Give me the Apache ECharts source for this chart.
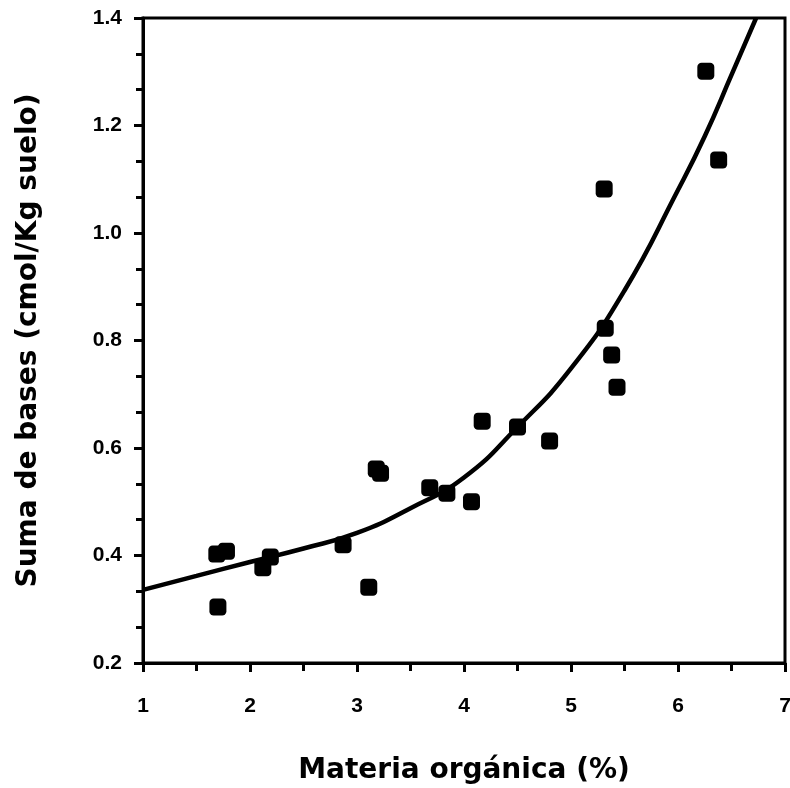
<!DOCTYPE html>
<html>
<head>
<meta charset="utf-8">
<script src="https://cdn.jsdelivr.net/npm/echarts@6/dist/echarts.min.js"></script>
<style>
    html, body { margin: 0; padding: 0; background: #fff; }
    #chart { width: 790px; height: 788px; }
</style>
</head>
<body>
<div id="chart"></div>
<script>
    // puntos medidos: materia orgánica (%) vs suma de bases
    var materiaOrganica = [1.69, 1.78, 1.70, 2.12, 2.19, 2.87, 3.11, 3.18, 3.22, 3.68, 3.84, 4.07,
        4.17, 4.50, 4.80, 5.31, 5.32, 5.38, 5.43, 6.26, 6.38]
    var sumaBases = [0.403, 0.408, 0.304, 0.377, 0.397, 0.420, 0.341, 0.561, 0.553, 0.526, 0.516, 0.500,
        0.650, 0.639, 0.613, 1.082, 0.823, 0.773, 0.713, 1.301, 1.136]
    // curva ajustada
    var curvaX = [1, 1.5, 2, 2.5, 3, 3.5, 4, 4.5, 5, 5.5, 6, 6.25, 6.5, 6.73]
    var curvaY = [0.336, 0.362, 0.388, 0.413, 0.442, 0.488, 0.545, 0.639, 0.748, 0.893, 1.08, 1.18, 1.294, 1.40]

    var fuente = 'Liberation Sans'
    var fuenteTitulo = 'DejaVu Sans'
    var chart = echarts.init(document.getElementById('chart'))

    var puntos = materiaOrganica.map(function (x, i) { return [x, sumaBases[i]] })
    var curva = curvaX.map(function (x, i) { return [x, curvaY[i]] })

    chart.setOption({
        animation: false,
        grid: {
            left: 143,
            right: 5,
            top: 18,
            bottom: 125,
            outerBoundsMode: 'none',
            show: true,
            borderColor: '#000',
            borderWidth: 3
        },
        xAxis: {
            type: 'value',
            min: 1,
            max: 7,
            interval: 1,
            name: 'Materia orgánica (%)',
            nameLocation: 'middle',
            nameGap: 94,
            nameTextStyle: { fontFamily: fuenteTitulo, fontWeight: 'bold', fontSize: 28, color: '#000' },
            axisLine: { lineStyle: { color: '#000', width: 3 } },
            axisTick: { inside: false, length: 9, lineStyle: { width: 3, color: '#000' } },
            minorTick: { show: true, splitNumber: 2, length: 8, lineStyle: { width: 3, color: '#000' } },
            splitLine: { show: false },
            axisLabel: { margin: 33, fontFamily: fuente, fontWeight: 'bold', fontSize: 21, color: '#000' }
        },
        yAxis: {
            type: 'value',
            min: 0.2,
            max: 1.4,
            interval: 0.2,
            name: 'Suma de bases (cmol/Kg suelo)',
            nameLocation: 'middle',
            nameGap: 100,
            nameTextStyle: { fontFamily: fuenteTitulo, fontWeight: 'bold', fontSize: 28, color: '#000' },
            axisLine: { lineStyle: { color: '#000', width: 3 } },
            axisTick: { inside: false, length: 9, lineStyle: { width: 3, color: '#000' } },
            minorTick: { show: true, splitNumber: 3, length: 7, lineStyle: { width: 3, color: '#000' } },
            splitLine: { show: false },
            axisLabel: {
                margin: 21,
                fontFamily: fuente,
                fontWeight: 'bold',
                fontSize: 21,
                color: '#000',
                formatter: function (v) { return v.toFixed(1) }
            }
        },
        series: [{
            type: 'line',
            data: curva,
            smooth: 0.5,
            symbol: 'none',
            lineStyle: { color: '#000', width: 4.5 },
            z: 2
        }, {
            type: 'scatter',
            data: puntos,
            symbol: 'roundRect',
            symbolSize: 17,
            itemStyle: { color: '#000', opacity: 1 },
            z: 3
        }]
    })
</script>
</body>
</html>
